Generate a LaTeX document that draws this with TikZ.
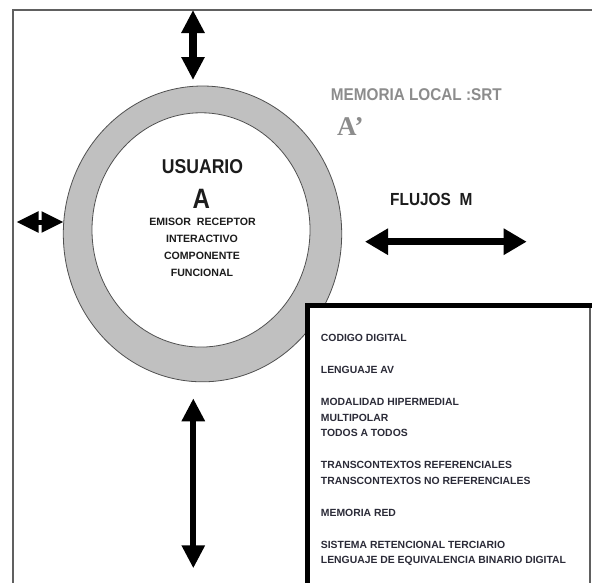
\documentclass[tikz,border=0pt]{standalone}
\usepackage{fontspec}
\setmainfont{Liberation Sans}
\newfontfamily\serifbold{Liberation Serif}
\usetikzlibrary{arrows.meta,shapes.geometric}
\definecolor{ringgray}{HTML}{C0C0C0}
\definecolor{edgegray}{HTML}{505050}
\definecolor{framegray}{HTML}{606060}
\definecolor{lightlabel}{HTML}{8C8C8C}
\definecolor{inktext}{HTML}{1C1C1C}
\definecolor{boxtext}{HTML}{2B2B38}
\tikzset{
  txt/.style={inner sep=0pt, text=inktext, font=\bfseries},
  boxline/.style={inner sep=0pt, anchor=base west, text=boxtext, font=\bfseries\fontsize{10.4}{12}\selectfont},
  smallline/.style={inner sep=0pt, anchor=base, text=inktext, font=\bfseries\fontsize{10.6}{12}\selectfont},
  fatarrow/.style={line width=#1, {Triangle[width=22pt,length=23pt]}-{Triangle[width=22pt,length=23pt]}},
}
\begin{document}
\begin{tikzpicture}[x=1pt,y=-1pt]
\useasboundingbox (0,0) rectangle (592,582);
\fill[white] (0,0) rectangle (592,582);
% outer frame
\coordinate (fbl) at (13,600);
\coordinate (ftl) at (13,10);
\coordinate (ftr) at (600,10);
\draw[line width=2pt, framegray] (fbl) -- (ftl) -- (ftr);
% ring
\node[ellipse, draw=edgegray, line width=0.8pt, fill=ringgray, inner sep=0pt,
      minimum width=278.4pt, minimum height=295.8pt] (ring) at (202.5,233.9) {};
\node[ellipse, draw=edgegray, line width=0.8pt, fill=white, inner sep=0pt,
      minimum width=218pt, minimum height=234.3pt] (inner) at (201,229.9) {};
% box
\coordinate (bbl) at (307,600);
\coordinate (btl) at (307,305);
\coordinate (btr) at (590,305);
\coordinate (bbr) at (590,600);
\fill[white] (btl) rectangle (bbr);
\draw[line width=1.5pt, framegray] (btr) -- (bbr);
\draw[line width=5pt, black] (bbl) -- (btl) -- (600,305);
% arrows
\coordinate (ta1) at (193,10);  \coordinate (ta2) at (193,80);
\coordinate (la1) at (16.5,222); \coordinate (la2) at (63.5,222);
\coordinate (ra1) at (365,241.7); \coordinate (ra2) at (526.7,241.7);
\coordinate (ba1) at (193.3,398.3); \coordinate (ba2) at (193.3,568.3);
\draw[fatarrow=8pt] (ta1) -- (ta2);
\draw[line width=5pt, {Triangle[width=20pt,length=22pt]}-{Triangle[width=20pt,length=22pt]}] (la1) -- (la2);
\draw[line width=7pt, {Triangle[width=25pt,length=23pt]}-{Triangle[width=25pt,length=23pt]}] (ra1) -- (ra2);
\draw[fatarrow=6pt] (ba1) -- (ba2);
% central texts
\node[txt, anchor=base, font=\bfseries\fontsize{20}{20}\selectfont] (usu) at (202.5,173) {\scalebox{0.88}[1]{USUARIO}};
\node[txt, anchor=base, font=\bfseries\fontsize{28}{28}\selectfont] (a) at (201.3,208) {\scalebox{0.86}[1]{A}};
\node[smallline] (l1) at (202.5,225.5) {EMISOR\ \ RECEPTOR};
\node[smallline] (l2) at (202,242.5) {INTERACTIVO};
\node[smallline] (l3) at (202,259.8) {COMPONENTE};
\node[smallline] (l4) at (202,276) {FUNCIONAL};
% memoria local
\node[inner sep=0pt, anchor=base west, text=lightlabel, font=\bfseries\fontsize{17}{17}\selectfont] (mem) at (330.7,100.7) {\scalebox{0.9}[1]{MEMORIA LOCAL :SRT}};
\node[inner sep=0pt, anchor=base west, text=lightlabel, font=\serifbold\bfseries\fontsize{27}{27}\selectfont] (ap) at (337,135) {A’};
% flujos
\node[txt, anchor=base west, font=\bfseries\fontsize{17.5}{17.5}\selectfont] (flu) at (390,205) {\scalebox{0.88}[1]{FLUJOS\ \ M}};
% box texts
\node[boxline] (b1) at (320.7,341.4) {CODIGO DIGITAL};
\node[boxline] (b2) at (320.7,373.7) {LENGUAJE AV};
\node[boxline] (b3) at (320.7,405.4) {MODALIDAD HIPERMEDIAL};
\node[boxline] (b4) at (320.7,421.4) {MULTIPOLAR};
\node[boxline] (b5) at (320.7,436.4) {TODOS A TODOS};
\node[boxline] (b6) at (320.7,468.7) {TRANSCONTEXTOS REFERENCIALES};
\node[boxline] (b7) at (320.7,484.4) {TRANSCONTEXTOS NO REFERENCIALES};
\node[boxline] (b8) at (320.7,516.4) {MEMORIA RED};
\node[boxline] (b9) at (320.7,548.7) {SISTEMA RETENCIONAL TERCIARIO};
\node[boxline] (b10) at (320.7,563.7) {LENGUAJE DE EQUIVALENCIA BINARIO DIGITAL};
\end{tikzpicture}
\end{document}
